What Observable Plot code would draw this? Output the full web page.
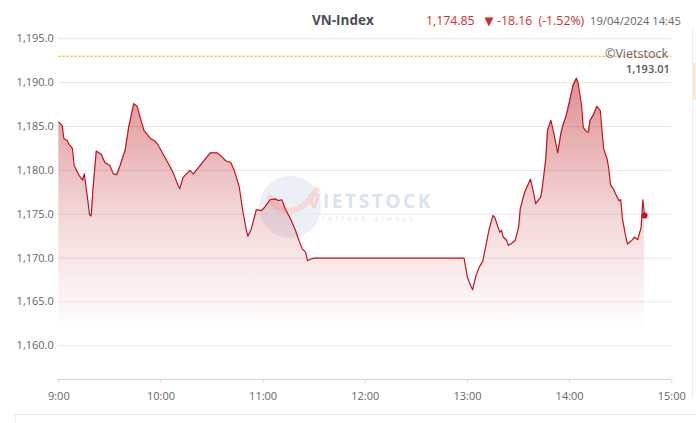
<!DOCTYPE html>
<html><head><meta charset="utf-8">
<script src="https://cdn.jsdelivr.net/npm/d3@7"></script>
<script src="https://cdn.jsdelivr.net/npm/@observablehq/plot@0.6"></script>
<style>
body{margin:0;background:#fff;font-family:"Open Sans",sans-serif;}
#wrap{position:relative;width:696px;height:423px;overflow:hidden;}
#wrap svg{position:absolute;left:0;top:0;}
</style></head><body>
<div id="wrap">
<svg id="under" width="696" height="423">
  <circle cx="290" cy="207" r="31" fill="#e2eaf3" opacity="0.7"/>
  <path d="M268 196 Q290 230 318 188" stroke="#f4d3d3" stroke-width="6" fill="none" opacity="0.8"/>
  <text x="308" y="208" font-family="Open Sans, sans-serif" font-weight="700" font-size="19" fill="#f3d2d2" letter-spacing="2.6">V<tspan fill="#d9e3ef">IETSTOCK</tspan></text>
  <text x="322" y="221" font-family="Open Sans, sans-serif" font-size="6.5" fill="#e6e6e6" letter-spacing="3.6">refresh always</text>
  <line x1="692.5" y1="28" x2="692.5" y2="397" stroke="#ececec"/>
  <rect x="693" y="63" width="3" height="37" fill="#fdebd0"/>
  <line x1="15" y1="414.5" x2="696" y2="414.5" stroke="#ececec"/>
  <line x1="15.5" y1="414" x2="15.5" y2="423" stroke="#ececec"/>
</svg>
<div id="chart"></div>
<svg id="over" width="696" height="423" style="pointer-events:none">
  <text x="312" y="24.5" font-family="Open Sans, sans-serif" font-weight="700" font-size="13.5" fill="#4d4d55">VN-Index</text>
  <text x="426" y="25" font-family="Open Sans, sans-serif" font-size="12.3" fill="#c9302c">1,174.85</text>
  <text x="484.5" y="24.5" font-family="DejaVu Sans, sans-serif" font-size="11.5" fill="#c9302c">▼</text>
  <text x="497" y="25" font-family="Open Sans, sans-serif" font-size="12.3" fill="#c9302c">-18.16</text>
  <text x="538.5" y="25" font-family="Open Sans, sans-serif" font-size="12.3" fill="#c9302c">(-1.52%)</text>
  <text x="590" y="25" font-family="Open Sans, sans-serif" font-size="11.2" fill="#666">19/04/2024 14:45</text>
  <text x="668" y="58" text-anchor="end" font-family="Open Sans, sans-serif" font-size="12.5" fill="#666">©Vietstock</text>
</svg>
</div>
<script>
const times = ["9:00","9:02","9:03","9:05","9:06","9:08","9:09","9:12","9:14","9:15","9:17","9:18","9:19","9:20","9:22","9:25","9:27","9:30","9:32","9:34","9:36","9:39","9:41","9:44","9:46","9:48","9:50","9:54","9:56","9:58",
"10:00","10:04","10:07","10:10","10:11","10:13","10:17","10:19","10:22","10:25","10:29","10:33","10:35","10:38","10:41","10:43","10:46","10:48","10:50","10:51","10:53","10:56","10:57","10:59",
"11:01","11:04","11:07","11:09","11:11","11:13","11:16","11:19","11:21","11:23","11:25","11:26","11:28","11:30",
"12:58",
"13:00","13:01","13:03","13:05","13:07","13:09","13:10","13:12","13:13","13:15","13:16","13:18","13:19","13:20","13:21","13:23","13:24","13:26","13:28","13:30","13:31","13:33","13:34","13:37","13:39","13:40","13:43","13:44","13:46","13:47","13:49","13:51","13:53","13:55","13:56","13:58",
"14:00","14:02","14:04","14:05","14:07","14:08","14:10","14:11","14:12","14:14","14:16","14:18","14:19","14:20","14:22","14:23","14:24","14:26","14:27","14:29","14:30","14:31","14:33","14:34","14:37","14:38","14:40","14:42","14:43","14:44"];
const values = [1185.5,1185.1,1183.6,1183.4,1182.95,1182.5,1180.55,1179.4,1178.9,1179.6,1176.6,1175.0,1174.8,1177.7,1182.2,1181.8,1180.9,1180.55,1179.6,1179.5,1180.55,1182.35,1184.9,1187.6,1187.3,1185.9,1184.55,1183.6,1183.4,1183.0,
1182.3,1180.9,1179.8,1178.3,1177.9,1179.2,1180.0,1179.6,1180.3,1181.05,1182.0,1182.0,1181.7,1181.1,1180.9,1180.0,1178.1,1175.4,1173.3,1172.5,1173.3,1175.5,1175.5,1175.4,
1175.8,1176.65,1176.75,1176.55,1176.65,1175.6,1174.5,1173.15,1172.0,1171.05,1170.65,1169.7,1169.9,1170.0,
1170.0,
1167.8,1167.25,1166.4,1168.0,1169.0,1169.65,1170.65,1172.6,1173.5,1174.85,1174.65,1173.5,1172.95,1173.15,1172.4,1172.0,1171.45,1171.7,1172.0,1173.5,1175.6,1177.1,1177.7,1179.0,1177.3,1176.2,1176.95,1178.1,1181.3,1184.55,1185.7,1183.95,1182.0,1184.35,1185.1,1186.25,
1187.95,1189.7,1190.5,1189.9,1187.4,1184.9,1184.4,1184.35,1185.7,1186.35,1187.3,1186.8,1184.55,1182.45,1181.3,1180.2,1178.35,1177.8,1177.3,1176.55,1176.65,1174.5,1172.4,1171.6,1172.1,1172.4,1172.1,1173.5,1176.65,1174.85];
const yTicks = [1160,1165,1170,1175,1180,1185,1190,1195];
const xTicks = ["9:00","10:00","11:00","12:00","13:00","14:00","15:00"];
const xDomain = ["9:00","15:00"];
const yDomain = [1156.16,1196];
const refValue = 1193.01;
const areaFloor = 1161.7;

const parse = d3.utcParse("%H:%M");
const data = times.map((t,i) => ({t: parse(t), v: values[i]}));
const last = data[data.length-1];
const red = "#c1121f";

const chart = Plot.plot({
  width: 696, height: 423,
  marginTop: 29.5, marginBottom: 44, marginLeft: 58.3, marginRight: 24.7,
  style: {fontFamily: "Open Sans, sans-serif", fontSize: "11px", color: "#666", background: "transparent"},
  x: {type: "utc", domain: xDomain.map(parse), axis: null},
  y: {domain: yDomain, axis: null},
  marks: [
    Plot.ruleY(yTicks, {stroke: "#e6e6e6"}),
    Plot.areaY(data, {x: "t", y1: areaFloor, y2: "v", fill: "url(#vnGrad)"}),
    Plot.ruleY([refValue], {stroke: "#f5a31a", strokeDasharray: "2.5,1.5"}),
    Plot.text([refValue], {frameAnchor: "right", y: d => d, dx: -2, dy: 13.5, text: d => d3.format(",.2f")(d), fill: "#555", fontWeight: 600, textAnchor: "end"}),
    Plot.lineY(data, {x: "t", y: "v", stroke: red, strokeWidth: 1.2}),
    Plot.dot([last], {x: "t", y: "v", r: 3, fill: red}),
    Plot.ruleY([yDomain[0]], {stroke: "#ccd6eb"}),
    Plot.axisY({ticks: yTicks, tickFormat: d3.format(",.1f"), tickSize: 0, tickPadding: 5, label: null, fill: "#666"}),
    Plot.axisX({ticks: xTicks.map(parse), tickFormat: d3.utcFormat("%-H:%M"), tickSize: 4, tickPadding: 8.5, label: null, stroke: "#ccd6eb", fill: "#666"})
  ]
});
const ns = "http://www.w3.org/2000/svg";
const defs = document.createElementNS(ns, "defs");
defs.innerHTML = '<linearGradient id="vnGrad" x1="0" y1="0" x2="0" y2="1">' +
  '<stop offset="0" stop-color="#c0282d" stop-opacity="0.52"/>' +
  '<stop offset="0.55" stop-color="#c0282d" stop-opacity="0.18"/>' +
  '<stop offset="1" stop-color="#c0282d" stop-opacity="0.0"/></linearGradient>';
chart.insertBefore(defs, chart.firstChild);
document.getElementById("chart").appendChild(chart);
</script>
</body></html>
